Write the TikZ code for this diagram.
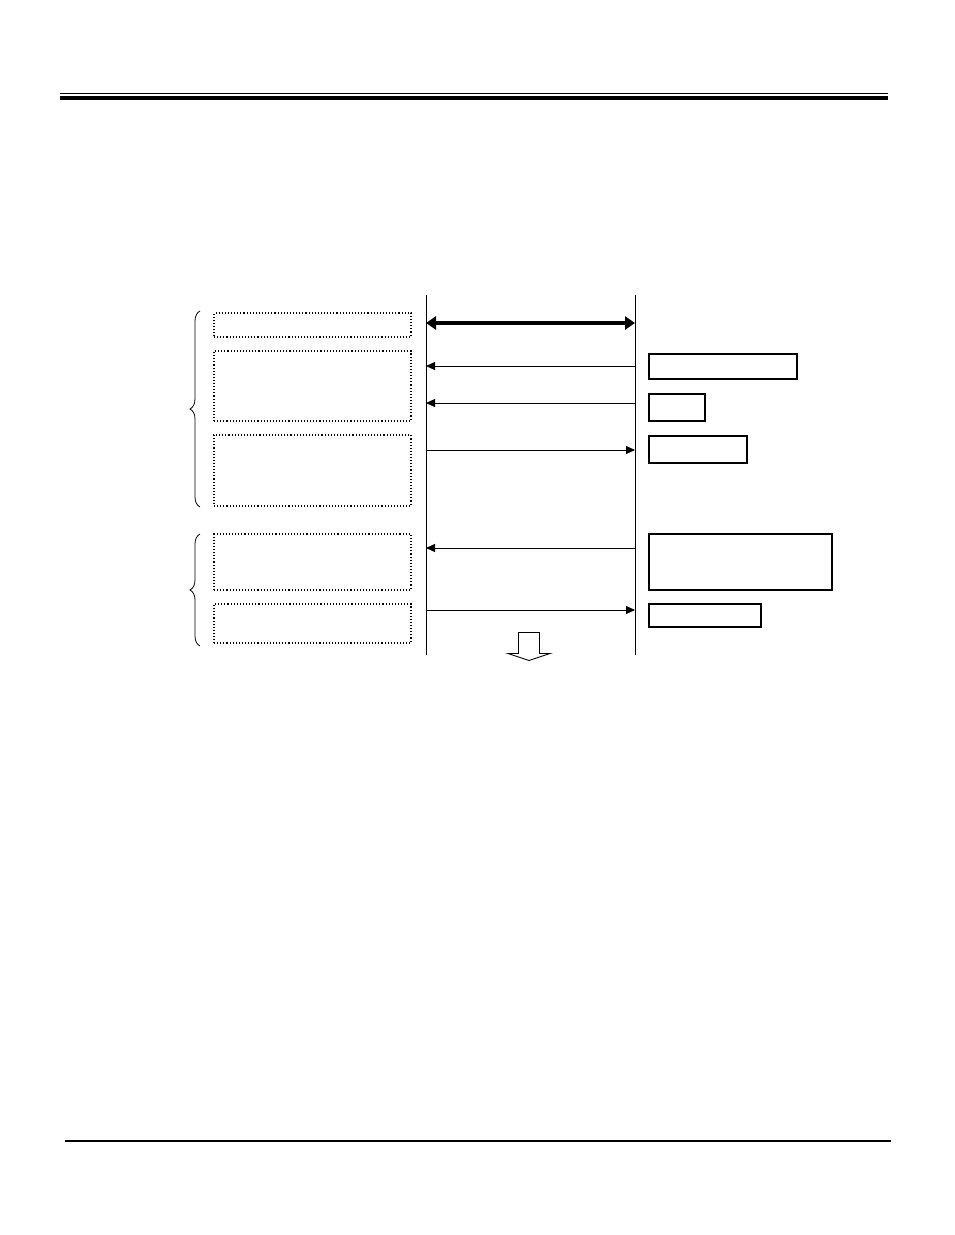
\documentclass[tikz,border=0pt]{standalone}
\usetikzlibrary{arrows.meta,decorations.pathreplacing}
\begin{document}
\begin{tikzpicture}[x=1pt,y=-1pt,
  dbox/.style={draw, dotted, line width=1.1pt, inner sep=0pt, outer sep=0pt, anchor=north west},
  sbox/.style={draw, line width=1.3pt, inner sep=0pt, outer sep=0pt, anchor=north west},
  life/.style={line width=0.8pt},
  msg/.style={line width=1pt, -{Triangle[length=9pt,width=8pt]}},
  bigmsg/.style={line width=3.5pt, {Triangle[length=10pt,width=13pt]}-{Triangle[length=10pt,width=13pt]}},
  brc/.style={decorate, decoration={brace, amplitude=10pt}, line width=0.8pt},
  hollow/.style={draw, line width=0.9pt, fill=white, line join=miter}]
\useasboundingbox (0,0) rectangle (954,1235);
% header and footer rules
\coordinate (h1) at (60,93.5); \coordinate (h2) at (888,93.5);
\draw[line width=1.2pt] (h1) -- (h2);
\coordinate (h3) at (60,98); \coordinate (h4) at (888,98);
\draw[line width=3.5pt] (h3) -- (h4);
\coordinate (f1) at (65,1141); \coordinate (f2) at (891,1141);
\draw[line width=2pt] (f1) -- (f2);
% lifelines
\coordinate (la) at (426,295); \coordinate (lb) at (426,655);
\coordinate (ra) at (635,295); \coordinate (rb) at (635,655);
\draw[life] (la) -- (lb);
\draw[life] (ra) -- (rb);
% message anchor points
\foreach \n/\y in {1/323,2/366,3/403,4/450,5/548,6/610}{
  \coordinate (L\n) at (426,\y);
  \coordinate (R\n) at (635,\y);
}
\draw[bigmsg] (L1) -- (R1);
\draw[msg] (R2) -- (L2);
\draw[msg] (R3) -- (L3);
\draw[msg] (L4) -- (R4);
\draw[msg] (R5) -- (L5);
\draw[msg] (L6) -- (R6);
% left dotted boxes
\node[dbox, minimum width=197pt, minimum height=24pt] (d1) at (214,313) {};
\node[dbox, minimum width=197pt, minimum height=70pt] (d2) at (214,351) {};
\node[dbox, minimum width=197pt, minimum height=71pt] (d3) at (214,435) {};
\node[dbox, minimum width=197pt, minimum height=56pt] (d4) at (214,534) {};
\node[dbox, minimum width=197pt, minimum height=39pt] (d5) at (214,604) {};
% right solid boxes
\node[sbox, minimum width=148pt, minimum height=25pt] (s1) at (649,354) {};
\node[sbox, minimum width=56pt, minimum height=27pt] (s2) at (649,394) {};
\node[sbox, minimum width=98pt, minimum height=27pt] (s3) at (649,436) {};
\node[sbox, minimum width=183pt, minimum height=56pt] (s4) at (649,534) {};
\node[sbox, minimum width=112pt, minimum height=23pt] (s5) at (649,604) {};
% braces
\coordinate (b1a) at (200,507); \coordinate (b1b) at (200,311);
\draw[brc] (b1a) -- (b1b);
\coordinate (b2a) at (200,646); \coordinate (b2b) at (200,534);
\draw[brc] (b2a) -- (b2b);
% hollow down arrow
\coordinate (a1) at (518.5,632.5);
\coordinate (a2) at (539.5,632.5);
\coordinate (a3) at (539.5,653.5);
\coordinate (a4) at (550,653.5);
\coordinate (a5) at (529,660.5);
\coordinate (a6) at (508,653.5);
\coordinate (a7) at (518.5,653.5);
\draw[hollow] (a1) -- (a2) -- (a3) -- (a4) -- (a5) -- (a6) -- (a7) -- cycle;
\end{tikzpicture}
\end{document}
